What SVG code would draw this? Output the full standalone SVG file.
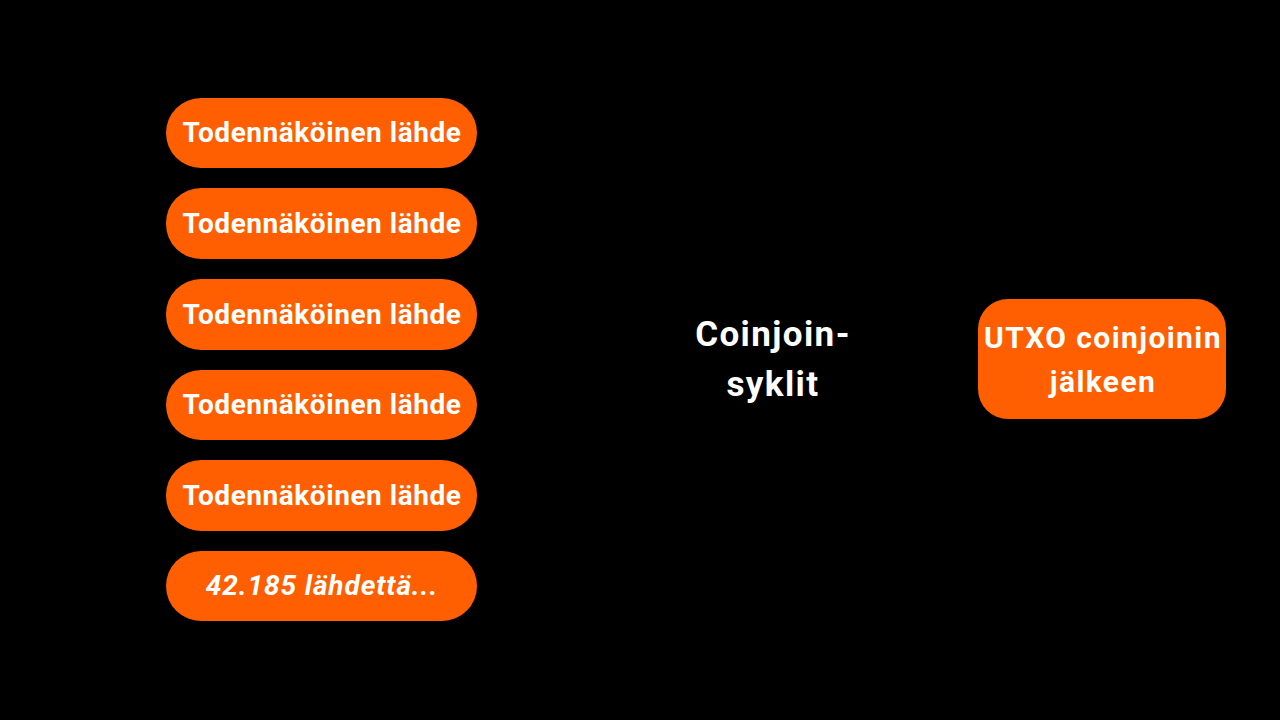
<svg xmlns="http://www.w3.org/2000/svg" width="1280" height="720" viewBox="0 0 1280 720">
<style>
.box{fill:#ff5f00}
.t{font-family:Roboto,"Liberation Sans",sans-serif;font-weight:700;font-size:28px;fill:#fff;text-anchor:middle;letter-spacing:0.55px}
.it{font-style:italic;letter-spacing:0.9px}
.c{font-size:35px;letter-spacing:1.4px}
.u{font-size:30px;letter-spacing:1.4px}
</style>
<rect width="1280" height="720" fill="#000"/>
<g id="src1"><rect class="box" x="166" y="98" width="311" height="70" rx="35"/><text class="t" x="322" y="142">Todennäköinen lähde</text></g>
<g id="src2"><rect class="box" x="166" y="188" width="311" height="71" rx="35"/><text class="t" x="322" y="233">Todennäköinen lähde</text></g>
<g id="src3"><rect class="box" x="166" y="279" width="311" height="71" rx="35"/><text class="t" x="322" y="324">Todennäköinen lähde</text></g>
<g id="src4"><rect class="box" x="166" y="370" width="311" height="70" rx="35"/><text class="t" x="322" y="414">Todennäköinen lähde</text></g>
<g id="src5"><rect class="box" x="166" y="460" width="311" height="71" rx="35"/><text class="t" x="322" y="505">Todennäköinen lähde</text></g>
<g id="src6"><rect class="box" x="166" y="551" width="311" height="70" rx="35"/><text class="t it" x="322" y="595">42.185 lähdettä...</text></g>
<g id="cycles"><text class="t c" x="773" y="346">Coinjoin-</text><text class="t c" x="773" y="396">syklit</text></g>
<g id="utxo"><rect class="box" x="978" y="299" width="248" height="120" rx="30"/><text class="t u" x="1103" y="348">UTXO coinjoinin</text><text class="t u" x="1103" y="392">jälkeen</text></g>
<g id="connectors"></g>
</svg>
